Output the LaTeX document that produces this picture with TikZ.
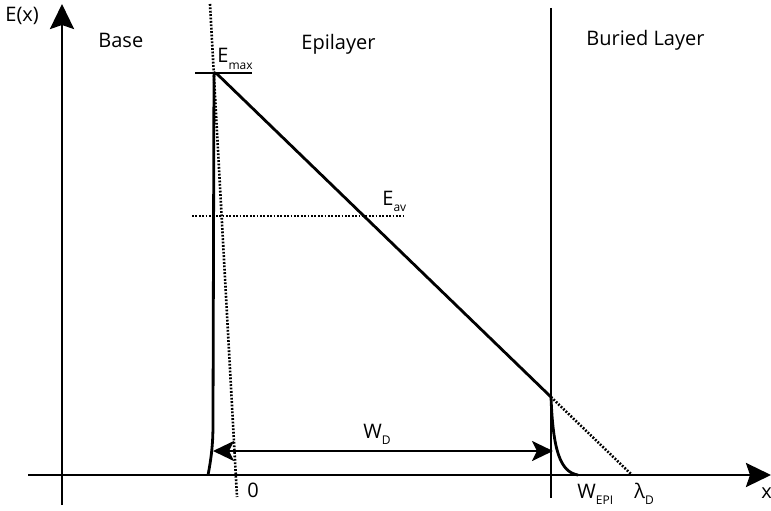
\documentclass[tikz,border=0pt]{standalone}
\usepackage{fontspec}
\setmainfont{Open Sans}
\usetikzlibrary{arrows.meta}
\newcommand{\lowsub}[1]{\raisebox{-.6ex}{\fontsize{12}{13}\selectfont #1}}
\begin{document}
\begin{tikzpicture}[x=1pt,y=-1pt,line width=2.8pt,font=\fontsize{20}{22}\selectfont,
  axis/.style={-{Stealth[length=25pt,width=24pt,inset=4pt]}},
  dots/.style={line width=2.6pt,dash pattern=on 1.8pt off 1.6pt},
  lbl/.style={anchor=base west,inner sep=0pt}]
  \useasboundingbox (0,0) rectangle (771,511);
  \coordinate (ybot) at (62,505); \coordinate (ytop) at (62,4); \coordinate (xl) at (28,475); \coordinate (xr) at (771,475);
  \draw[axis] (ybot)--(ytop); \draw[axis] (xl)--(xr);
  \coordinate (bltop) at (551,8); \coordinate (blbot) at (551,498); \draw (bltop)--(blbot);
  % field profile and depletion edges
  \coordinate (emax) at (214,71); \coordinate (wepi) at (551,397); \coordinate (lam) at (632,475);
  \draw[rounded corners=4pt] (208,475) .. controls (212,455) and (213,440) .. (213,420) -- (emax) -- (wepi);
  \draw (wepi) .. controls (553,450) and (560,472) .. (578,475);
  \draw[dots] (wepi)--(lam);
  \coordinate (zt) at (210,4); \coordinate (zb) at (237,497); \draw[dots] (zt)--(zb);
  \coordinate (mbl) at (195,73); \coordinate (mbr) at (252,73); \draw (mbl)--(mbr);
  \coordinate (avl) at (192,216); \coordinate (avr) at (403,216); \draw[dots] (avl)--(avr);
  \coordinate (wdl) at (213,451); \coordinate (wdr) at (553,451);
  \draw[{Stealth[length=21pt,width=20pt,inset=5pt]}-{Stealth[length=21pt,width=20pt,inset=5pt]}] (wdl)--(wdr);
  % labels
  \node[lbl] (ex) at (4,22) {E(x)}; \node[lbl] (base) at (97,48) {Base}; \node[lbl] (epi) at (300,49) {Epilayer};
  \node[lbl] (bur) at (585,46) {Buried Layer};
  \node[lbl] (lmax) at (216,63) {E\lowsub{max}}; \node[lbl] (lav) at (381,205) {E\lowsub{av}};
  \node[lbl] (lwd) at (362,438) {W\lowsub{D}}; \node[lbl] (lzero) at (246,497) {0};
  \node[lbl] (lwepi) at (576,498) {W\lowsub{EPI}}; \node[lbl] (llam) at (633,498) {λ\lowsub{D}};
  \node[lbl] (lx) at (760,498) {x};
\end{tikzpicture}
\end{document}
